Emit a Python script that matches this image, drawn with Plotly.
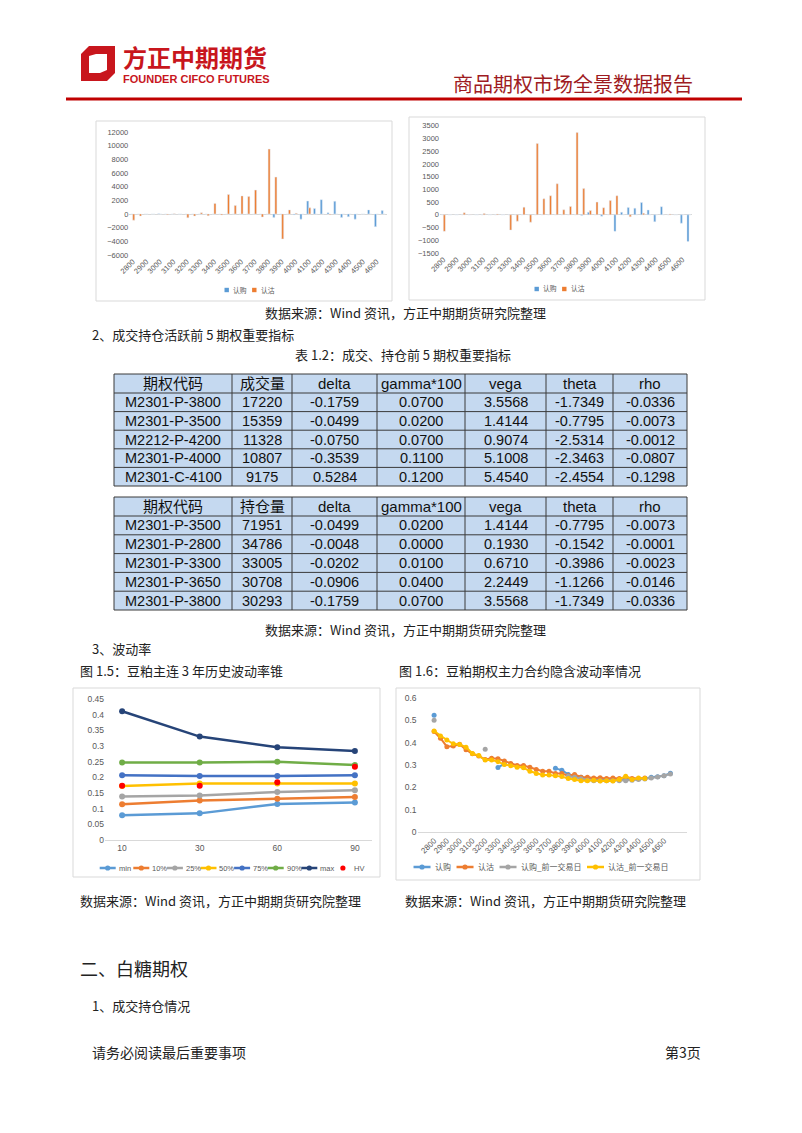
import plotly.graph_objects as go

W, H = 802, 1133
def px(x): return x / W
def py(y): return 1 - y / H

CJK = "Noto Sans CJK SC"
LAT = "Liberation Sans, Noto Sans CJK SC"

# ---------------- data ----------------
strikes = ["2800","2850","2900","2950","3000","3050","3100","3150","3200","3250",
           "3300","3350","3400","3450","3500","3550","3600","3650","3700","3750",
           "3800","3850","3900","3950","4000","4050","4100","4150","4200","4250",
           "4300","4350","4400","4450","4500","4550","4600","4650"]
strike_ticks = strikes[::2]

# chart 1 (volume change)
vol_call = [0, 0, 0, 0, 50, 0, 0, 0, 0, 0,
            0, 0, 0, 0, 0, 0, 0, 0, 0, 0,
            0, -500, 0, 0, -100, -750, 1900, 800, 2100, 200,
            1850, -500, -400, -750, 0, 600, -1850, 500]
vol_put = [-900, -300, 0, 0, 0, -100, 30, 0, -550, -300,
           200, -250, 1550, -150, 2850, 1250, 2650, 2550, 3500, -450,
           9500, 5400, -3650, 600, 100, 0, 900, 0, 0, -100,
           0, 0, 0, 0, 0, 0, 0, 0]

# chart 2 (open interest change)
oi_call = [0, 0, 0, 0, 0, 0, 0, 0, 0, 0,
           0, 0, 0, 0, 0, 0, 0, 0, 0, 0,
           0, -30, 100, 0, -60, 0, -650, 100, 290, 260,
           480, 190, -270, 320, 0, 0, -330, -1050]
oi_put = [-650, 0, 0, 80, 10, 0, 50, 0, 30, 0,
          -600, -250, 300, -290, 2800, 630, 750, 1220, 200, 330,
          3230, 1030, 170, 500, 280, 560, 750, 0, -80, 0,
          60, 0, 0, 0, 30, 0, 0, 0]
bar_names = ["认购", "认沽"]

# tables
tbl_header1 = ["期权代码", "成交量", "delta", "gamma*100", "vega", "theta", "rho"]
code1 = ["M2301-P-3800", "M2301-P-3500", "M2212-P-4200", "M2301-P-4000", "M2301-C-4100"]
vol1 = [17220, 15359, 11328, 10807, 9175]
delta1 = [-0.1759, -0.0499, -0.0750, -0.3539, 0.5284]
gamma1 = [0.0700, 0.0200, 0.0700, 0.1100, 0.1200]
vega1 = [3.5568, 1.4144, 0.9074, 5.1008, 5.4540]
theta1 = [-1.7349, -0.7795, -2.5314, -2.3463, -2.4554]
rho1 = [-0.0336, -0.0073, -0.0012, -0.0807, -0.1298]

tbl_header2 = ["期权代码", "持仓量", "delta", "gamma*100", "vega", "theta", "rho"]
code2 = ["M2301-P-3500", "M2301-P-2800", "M2301-P-3300", "M2301-P-3650", "M2301-P-3800"]
oi2 = [71951, 34786, 33005, 30708, 30293]
delta2 = [-0.0499, -0.0048, -0.0202, -0.0906, -0.1759]
gamma2 = [0.0200, 0.0000, 0.0100, 0.0400, 0.0700]
vega2 = [1.4144, 0.1930, 0.6710, 2.2449, 3.5568]
theta2 = [-0.7795, -0.1542, -0.3986, -1.1266, -1.7349]
rho2 = [-0.0073, -0.0001, -0.0023, -0.0146, -0.0336]

# vol cone
cone_x = ["10", "30", "60", "90"]
cone_names = ["min", "10%", "25%", "50%", "75%", "90%", "max"]
cone_min = [0.079, 0.085, 0.115, 0.120]
cone_p10 = [0.114, 0.126, 0.132, 0.137]
cone_p25 = [0.139, 0.142, 0.153, 0.159]
cone_p50 = [0.172, 0.180, 0.180, 0.180]
cone_p75 = [0.207, 0.204, 0.204, 0.207]
cone_p90 = [0.247, 0.247, 0.250, 0.239]
cone_max = [0.411, 0.330, 0.296, 0.284]
cone_hv = [0.173, 0.173, 0.184, 0.234]

# implied vol smile
N = None
iv_names = ["认购", "认沽", "认购_前一交易日", "认沽_前一交易日"]
iv_call = [0.523, N, N, N, N, N, N, N, N, N,
           0.289, 0.305, N, N, N, N, N, N, N, 0.285,
           0.277, 0.258, 0.250, 0.245, 0.240, 0.237, 0.235, 0.235, 0.236, 0.235,
           0.235, 0.236, 0.238, 0.240, 0.245, 0.247, 0.252, 0.263]
iv_put = [0.450, 0.420, 0.382, 0.385, 0.393, 0.368, 0.350, 0.340, 0.325, 0.330,
          0.328, 0.318, 0.307, 0.298, 0.298, 0.290, 0.280, 0.272, 0.272, 0.262,
          0.262, 0.252, 0.258, 0.245, 0.245, 0.242, 0.243, 0.240, 0.242, 0.240,
          0.245, 0.240, 0.238, 0.242, N, N, N, N]
iv_call_prev = [0.500, N, N, N, N, N, N, N, 0.371, N,
                N, N, N, N, N, N, N, N, N, N,
                N, 0.250, 0.245, 0.238, 0.232, 0.230, 0.230, 0.230, 0.230, 0.230,
                0.230, 0.232, 0.235, 0.237, 0.242, 0.246, 0.252, 0.260]
iv_put_prev = [0.452, 0.430, 0.412, 0.395, 0.392, 0.380, 0.352, 0.342, 0.322, 0.322,
               0.315, 0.302, 0.297, 0.290, 0.288, 0.272, 0.262, 0.255, 0.255, 0.252,
               0.248, 0.240, 0.235, 0.230, 0.230, 0.232, 0.228, 0.230, 0.228, 0.235,
               0.250, 0.235, 0.242, 0.240, N, N, N, N]

BLUE, ORANGE, GRAY, YELLOW = "#5B9BD5", "#ED7D31", "#A5A5A5", "#FFC000"
TICKC = "#595959"

fig = go.Figure()
shapes = []
ann = []

def txt(x, y, s, size=13, anchor="left", color="#222", family=CJK):
    ann.append(dict(x=px(x), y=py(y), xref="paper", yref="paper", text=s, showarrow=False,
                    xanchor=anchor, yanchor="middle", font=dict(size=size, color=color, family=family)))

# ---------------- bar charts ----------------
for vals, col, nm in [(vol_call, BLUE, bar_names[0]), (vol_put, ORANGE, bar_names[1])]:
    fig.add_trace(go.Bar(x=strikes, y=vals, name=nm, marker_color=col, xaxis="x", yaxis="y"))
for vals, col, nm in [(oi_call, BLUE, bar_names[0]), (oi_put, ORANGE, bar_names[1])]:
    fig.add_trace(go.Bar(x=strikes, y=vals, name=nm, marker_color=col, xaxis="x2", yaxis="y2"))

# ---------------- vol cone ----------------
cone_cols = [BLUE, ORANGE, GRAY, YELLOW, "#4472C4", "#70AD47", "#264478"]
cone_vals = [cone_min, cone_p10, cone_p25, cone_p50, cone_p75, cone_p90, cone_max]
for nm, col, vals in zip(cone_names, cone_cols, cone_vals):
    fig.add_trace(go.Scatter(x=cone_x, y=vals, name=nm, mode="lines+markers",
                             line=dict(color=col, width=2.5), marker=dict(color=col, size=6),
                             xaxis="x3", yaxis="y3"))
fig.add_trace(go.Scatter(x=cone_x, y=cone_hv, name="HV", mode="markers",
                         marker=dict(color="#FF0000", size=6), xaxis="x3", yaxis="y3"))

# ---------------- IV smile ----------------
iv_cols = [BLUE, ORANGE, GRAY, YELLOW]
for nm, col, vals in zip(iv_names, iv_cols, [iv_call, iv_put, iv_call_prev, iv_put_prev]):
    fig.add_trace(go.Scatter(x=strikes, y=vals, name=nm, mode="lines+markers",
                             line=dict(color=col, width=2), marker=dict(color=col, size=5),
                             connectgaps=False, xaxis="x4", yaxis="y4"))

# ---------------- tables (grid + text) ----------------
col_bounds = [114, 232, 292, 377, 465, 546, 613, 687]
FILL = "#C5D9F0"
LINEC = "#3A3A3A"
TFONT = 14.5
fmts = ["{}", "{}", "{:.4f}", "{:.4f}", "{:.4f}", "{:.4f}", "{:.4f}"]

def draw_table(header, cols, top, head_h, row_h):
    nrow = len(cols[0])
    bounds = [top, top + head_h] + [top + head_h + row_h * (k + 1) for k in range(nrow)]
    shapes.append(dict(type="rect", xref="paper", yref="paper", layer="below",
                       x0=px(col_bounds[0]), x1=px(col_bounds[-1]), y0=py(bounds[-1]), y1=py(top),
                       fillcolor=FILL, line=dict(width=0)))
    for yb in bounds:
        shapes.append(dict(type="line", xref="paper", yref="paper",
                           x0=px(col_bounds[0]), x1=px(col_bounds[-1]), y0=py(yb), y1=py(yb),
                           line=dict(color=LINEC, width=1)))
    for xb in col_bounds:
        shapes.append(dict(type="line", xref="paper", yref="paper",
                           x0=px(xb), x1=px(xb), y0=py(bounds[-1]), y1=py(top),
                           line=dict(color=LINEC, width=1)))
    for j, h in enumerate(header):
        xc = (col_bounds[j] + col_bounds[j + 1]) / 2
        txt(xc, (bounds[0] + bounds[1]) / 2, h, size=TFONT + 0.5, anchor="center", color="#111", family=LAT)
        for i, v in enumerate(cols[j]):
            txt(xc, (bounds[i + 1] + bounds[i + 2]) / 2, fmts[j].format(v), size=TFONT,
                anchor="center", color="#111", family=LAT)

draw_table(tbl_header1, [code1, vol1, delta1, gamma1, vega1, theta1, rho1], 374, 19, 18.6)
draw_table(tbl_header2, [code2, oi2, delta2, gamma2, vega2, theta2, rho2], 497, 19, 18.8)

# ---------------- axes ----------------
def cat_x(x0, x1, y_anchor, ticks, angle=-45, size=7.5, showline=False):
    return dict(domain=[px(x0), px(x1)], anchor=y_anchor, type="category",
                tickmode="array", tickvals=ticks, ticktext=ticks, tickangle=angle,
                tickfont=dict(size=size, color=TICKC, family=LAT),
                showgrid=False, zeroline=False, showline=showline,
                linecolor="#D9D9D9", linewidth=1, ticks="", fixedrange=True)

def val_y(ytop, ybot, x_anchor, rng, dtick, size=7.5, zl=True):
    return dict(domain=[py(ybot), py(ytop)], anchor=x_anchor, range=rng, dtick=dtick,
                tickformat="d" if dtick >= 1 else "",
                tickfont=dict(size=size, color=TICKC, family=LAT),
                showgrid=False, zeroline=zl, zerolinecolor="#D9D9D9", zerolinewidth=1,
                showline=False, ticks="", fixedrange=True)

fig.update_layout(
    width=W, height=H, margin=dict(l=0, r=0, t=0, b=0, autoexpand=False),
    paper_bgcolor="white", plot_bgcolor="white",
    bargap=0.4, bargroupgap=0, barmode="group", showlegend=False,
    xaxis=cat_x(129.3, 386.6, "y", strike_ticks),
    yaxis=val_y(132, 255, "x", [-6000, 12000], 2000),
    xaxis2=cat_x(440, 692.3, "y2", strike_ticks),
    yaxis2=val_y(125.7, 253, "x2", [-1500, 3500], 500),
    xaxis3=cat_x(105, 372, "y3", cone_x, angle=0, size=8.5, showline=True),
    yaxis3=val_y(699, 840, "x3", [0, 0.45], 0.05, size=8.5, zl=False),
    xaxis4=cat_x(417.5, 687, "y4", strike_ticks, size=8, showline=True),
    yaxis4=val_y(698, 832, "x4", [0, 0.6], 0.1, size=8.5, zl=False),
)

# ---------------- legends (keys beside series names) ----------------
def text_w(s, size):
    return sum(size if ord(c) > 255 else 0.56 * size for c in s)

def draw_legend(items, xc, y, size=8, line_len=17, gap=2, item_gap=7):
    widths = [line_len + gap + text_w(n, size) for n, _, _ in items]
    total = sum(widths) + item_gap * (len(items) - 1)
    x = xc - total / 2
    for (name, col, kind), w in zip(items, widths):
        cx = x + line_len / 2
        if kind == "line":
            shapes.append(dict(type="line", xref="paper", yref="paper", x0=px(x), x1=px(x + line_len),
                               y0=py(y), y1=py(y), line=dict(color=col, width=2.5)))
        if kind in ("line", "dot"):
            r = 2.6
            shapes.append(dict(type="circle", xref="paper", yref="paper", x0=px(cx - r), x1=px(cx + r),
                               y0=py(y + r), y1=py(y - r), fillcolor=col, line=dict(width=0)))
        if kind == "square":
            r = 2.2
            shapes.append(dict(type="rect", xref="paper", yref="paper", x0=px(x + line_len - 2 * r),
                               x1=px(x + line_len), y0=py(y + r), y1=py(y - r),
                               fillcolor=col, line=dict(width=0)))
        txt(x + line_len + gap, y, name, size=size, color=TICKC, family=LAT)
        x += w + item_gap

draw_legend([(bar_names[0], BLUE, "square"), (bar_names[1], ORANGE, "square")],
            248, 290, size=6.8, line_len=5, gap=2, item_gap=7)
draw_legend([(bar_names[0], BLUE, "square"), (bar_names[1], ORANGE, "square")],
            558, 289, size=6.8, line_len=5, gap=2, item_gap=7)
draw_legend([(n, c, "line") for n, c in zip(cone_names, cone_cols)] + [("HV", "#FF0000", "dot")],
            230, 868, size=7.5, line_len=16, gap=1, item_gap=4)
draw_legend([(n, c, "line") for n, c in zip(iv_names, iv_cols)],
            540, 867, size=8, line_len=17, gap=2, item_gap=8)

# ---------------- frames & header ----------------
def rect(x0, y0, x1, y1, color="#D9D9D9", width=1):
    shapes.append(dict(type="rect", xref="paper", yref="paper", x0=px(x0), x1=px(x1),
                       y0=py(y1), y1=py(y0), line=dict(color=color, width=width), layer="below"))

rect(96, 121, 392, 301)
rect(409, 117, 705, 300)
rect(73, 688, 380, 877)
rect(396, 688, 700, 880)

shapes.append(dict(type="line", xref="paper", yref="paper", x0=px(66), x1=px(742),
                   y0=py(99), y1=py(99), line=dict(color="#C00000", width=3)))

def path(pts):
    return "M " + " L ".join(f"{px(a):.5f},{py(b):.5f}" for a, b in pts) + " Z"
shapes.append(dict(type="path", xref="paper", yref="paper",
                   path=path([(81, 54), (89, 46), (115, 46), (115, 73), (107, 81), (81, 81)]),
                   fillcolor="#C8161D", line=dict(width=0)))
shapes.append(dict(type="path", xref="paper", yref="paper",
                   path=path([(89, 56), (96, 54), (107, 54), (107, 70), (100, 73), (89, 73)]),
                   fillcolor="white", line=dict(width=0)))

# ---------------- page text ----------------
txt(121, 57, "<b>方正中期期货</b>", size=24, color="#C8161D")
txt(121, 79, "<b>FOUNDER CIFCO FUTURES</b>", size=11, color="#C8161D", family=LAT)
txt(695, 83, "商品期权市场全景数据报告", size=20, anchor="right", color="#9E1B22")

src = "数据来源：Wind 资讯，方正中期期货研究院整理"
txt(405, 313, src, anchor="center")
txt(90, 335, "2、成交持仓活跃前 5 期权重要指标")
txt(403, 355, "表 1.2：成交、持仓前 5 期权重要指标", anchor="center")
txt(405, 629, src, anchor="center")
txt(90, 648, "3、波动率")
txt(78, 670, "图 1.5：豆粕主连 3 年历史波动率锥")
txt(397, 670, "图 1.6：豆粕期权主力合约隐含波动率情况")
txt(78, 900, src)
txt(403, 900, src)
txt(78, 968, "二、白糖期权", size=18)
txt(90, 1005, "1、成交持仓情况")
txt(90, 1052, "请务必阅读最后重要事项", size=14)
txt(703, 1052, "第3页", size=14, anchor="right")

fig.update_layout(shapes=shapes, annotations=ann)
fig.write_html("out.html", config={"displayModeBar": False},
               post_script="document.body.style.margin='0';")
